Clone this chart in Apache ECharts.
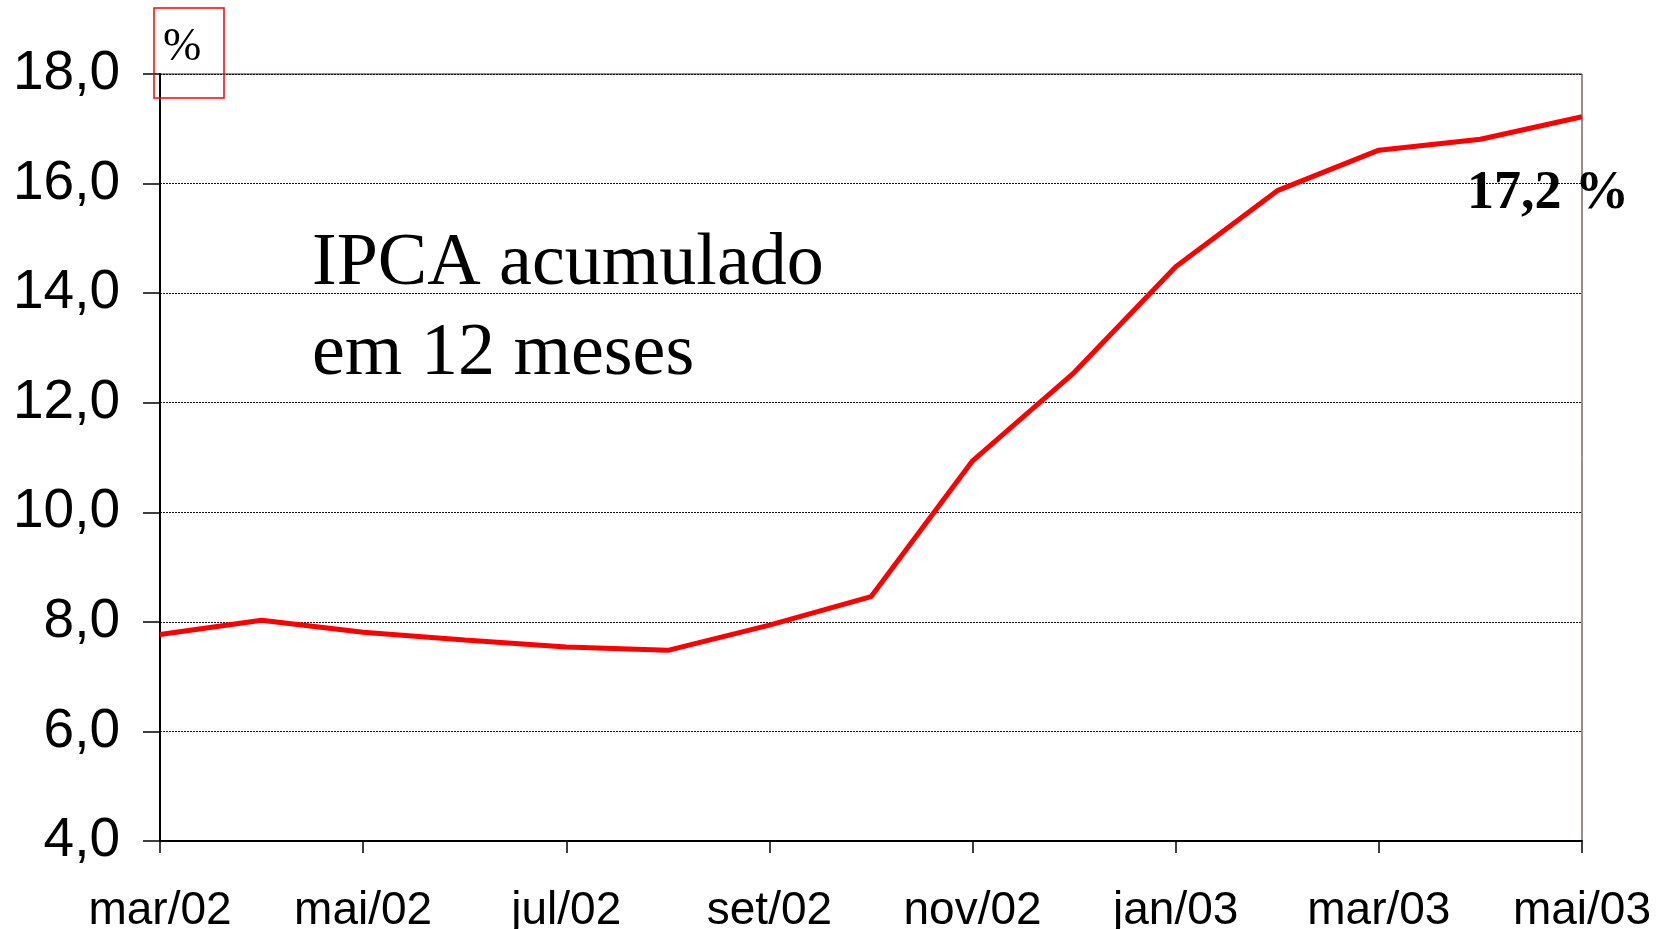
<!DOCTYPE html>
<html>
<head>
<meta charset="utf-8">
<script src="https://cdn.jsdelivr.net/npm/echarts@6/dist/echarts.min.js"></script>
<style>
  html, body { margin: 0; padding: 0; background: #fff; }
  #chart { width: 1660px; height: 929px; }
</style>
</head>
<body>
<div id="chart"></div>
<script>
// meses (eixo x)
var months = ['mar/02', 'abr/02', 'mai/02', 'jun/02', 'jul/02', 'ago/02', 'set/02', 'out/02',
  'nov/02', 'dez/02', 'jan/03', 'fev/03', 'mar/03', 'abr/03', 'mai/03']
// IPCA acumulado em 12 meses (%)
var ipca = [7.77, 8.03, 7.81, 7.67, 7.54, 7.48, 7.94, 8.46, 10.94, 12.55, 14.48, 15.87, 16.61, 16.81, 17.22]
var yMin = 4
var yMax = 18
var yStep = 2
var lastLabel = '17,2 %'
var titleLines = ['IPCA acumulado', 'em 12 meses']
var unitText = '%'

var chart = echarts.init(document.getElementById('chart'))

var seriesData = ipca.map(function (v, i) {
  if (i !== ipca.length - 1) return v
  return {
    value: v,
    label: {
      show: true,
      position: 'inside',
      offset: [-34, 77],
      formatter: lastLabel,
      fontFamily: 'Liberation Serif',
      fontWeight: 'bold',
      fontSize: 54,
      color: '#000'
    }
  }
})

chart.setOption({
  animation: false,
  backgroundColor: '#fff',
  grid: {
    left: 160,
    right: 78,
    top: 74,
    bottom: 88,
    containLabel: false,
    outerBoundsMode: 'none',
    show: true,
    borderColor: '#3a1a1a',
    borderWidth: 1
  },
  xAxis: {
    type: 'category',
    data: months,
    boundaryGap: false,
    axisLine: { lineStyle: { color: '#000', width: 2 } },
    axisTick: {
      show: true,
      interval: 1,
      length: 12,
      lineStyle: { color: '#000', width: 1.5 }
    },
    axisLabel: {
      interval: 1,
      margin: 47,
      fontFamily: 'Liberation Sans',
      fontSize: 46,
      color: '#000'
    },
    splitLine: { show: false }
  },
  yAxis: {
    type: 'value',
    min: yMin,
    max: yMax,
    interval: yStep,
    axisLine: { show: true, lineStyle: { color: '#000', width: 2 } },
    axisTick: {
      show: true,
      length: 17,
      lineStyle: { color: '#000', width: 1.5 }
    },
    axisLabel: {
      margin: 40,
      fontFamily: 'Liberation Sans',
      fontSize: 55,
      color: '#000',
      formatter: function (v) { return v.toFixed(1).replace('.', ',') }
    },
    splitLine: {
      show: true,
      lineStyle: { color: '#111', width: 1.2, type: [2, 1] }
    }
  },
  graphic: [
    {
      type: 'rect',
      shape: { x: 154, y: 8, width: 70, height: 90 },
      style: { fill: 'none', stroke: '#ff0000', lineWidth: 1.5 },
      z: 100
    },
    {
      type: 'text',
      x: 163,
      y: 48,
      style: {
        text: unitText,
        font: '46px "Liberation Serif"',
        fill: '#000',
        verticalAlign: 'middle'
      },
      z: 100
    },
    {
      type: 'text',
      x: 312,
      y: 265,
      style: {
        text: titleLines[0],
        font: '74px "Liberation Serif"',
        fill: '#000',
        verticalAlign: 'middle'
      },
      z: 100
    },
    {
      type: 'text',
      x: 312,
      y: 355,
      style: {
        text: titleLines[1],
        font: '74px "Liberation Serif"',
        fill: '#000',
        verticalAlign: 'middle'
      },
      z: 100
    }
  ],
  series: [{
    name: 'IPCA',
    type: 'line',
    data: seriesData,
    symbol: 'circle',
    symbolSize: 0.1,
    showSymbol: true,
    itemStyle: { color: '#ff0000' },
    lineStyle: { color: '#ff0000', width: 5 },
    z: 10
  }]
})
</script>
</body>
</html>
